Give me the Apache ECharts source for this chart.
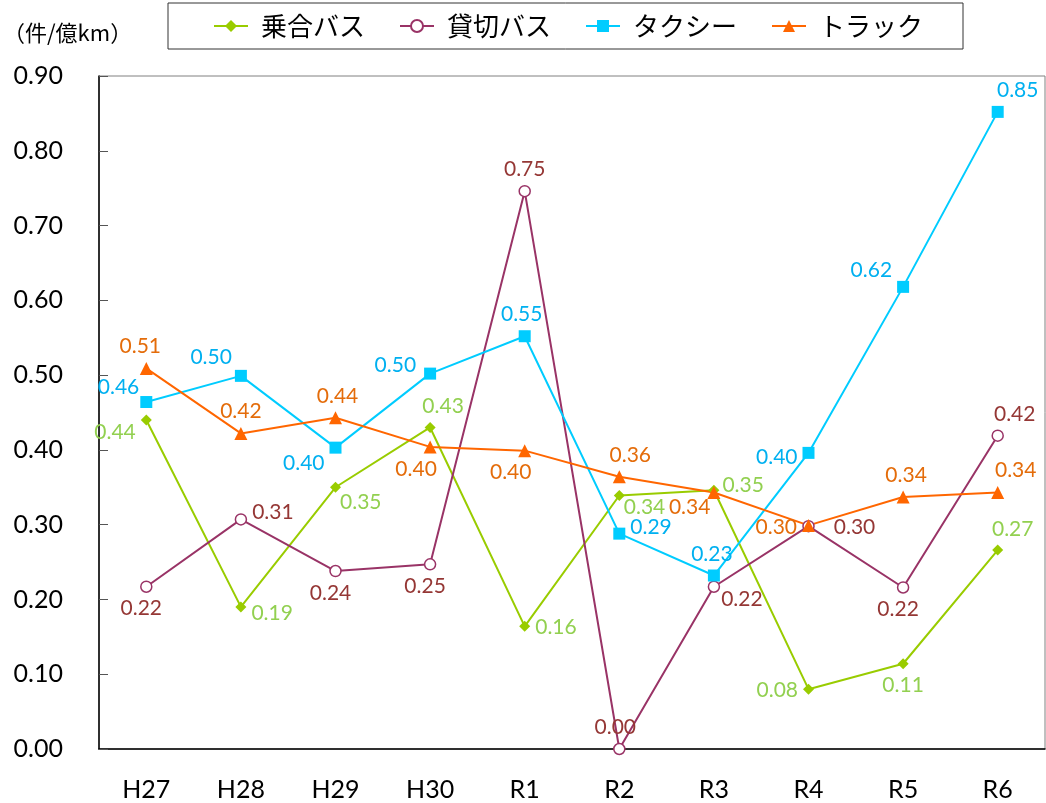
<!DOCTYPE html>
<html>
<head>
<meta charset="utf-8">
<script src="https://cdn.jsdelivr.net/npm/echarts@6/dist/echarts.min.js"></script>
<style>html,body{margin:0;padding:0;background:#fff}#c{width:1046px;height:803px}</style>
</head>
<body>
<div id="c"></div>
<script>
const categories = ['H27','H28','H29','H30','R1','R2','R3','R4','R5','R6'];
const yTicks = [0.0,0.1,0.2,0.3,0.4,0.5,0.6,0.7,0.8,0.9];
const seriesNames = ['乗合バス','貸切バス','タクシー','トラック'];
const noriaiBus = [0.44,0.19,0.35,0.43,0.164,0.339,0.346,0.08,0.114,0.266];
const kashikiriBus = [0.217,0.307,0.238,0.247,0.746,0.0,0.217,0.298,0.216,0.419];
const taxi = [0.464,0.499,0.403,0.502,0.552,0.288,0.232,0.396,0.618,0.852];
const truck = [0.509,0.422,0.443,0.404,0.399,0.364,0.343,0.299,0.337,0.343];

// label placement styling (position, offset) per point
const place = {
  noriai: [['left',[0,12]],['right',[0,6]],['right',[-6,15]],['top',[13,0]],['right',[0,1]],['right',[-6,12]],['right',[-2,-5]],['left',[0,1]],['bottom',[0,0]],['top',[15,0]]],
  kashi: [['bottom',[-5,0]],['right',[0,-7]],['bottom',[-5,0]],['bottom',[-5,0]],['top',[0,0]],['top',[-4,0]],['right',[-4,13]],['right',[14,1]],['bottom',[-5,0]],['top',[17,0]]],
  taxi: [['left',[4,-15]],['left',[2,-19]],['left',[0,16]],['left',[-3,-8]],['top',[-3,0]],['right',[0,-6]],['top',[-2,0]],['left',[0,4]],['left',[0,-17]],['top',[20,0]]],
  truck: [['top',[-6,0]],['top',[0,0]],['top',[2,0]],['bottom',[-14,0]],['bottom',[-14,0]],['top',[11,0]],['left',[8,15]],['left',[0,2]],['top',[3,0]],['top',[18,0]]]
};

const numFont = 'Lato, "Open Sans", sans-serif';
const jpFont = '"Noto Sans CJK JP", sans-serif';

function mk(name, vals, pl, lineColor, labelColor, symbol, size, fill) {
  return {
    name: name, type: 'line', symbol: symbol, symbolSize: size,
    lineStyle: {color: lineColor, width: 2},
    itemStyle: {color: fill || lineColor, borderColor: lineColor, borderWidth: fill ? 1.5 : 0},
    emphasis: {disabled: true},
    data: vals.map((v, i) => ({
      value: v,
      label: {show: true, position: pl[i][0], offset: pl[i][1], distance: 5,
        color: labelColor, fontSize: 21, fontFamily: numFont,
        formatter: p => p.value.toFixed(2)}
    })),
    z: 3
  };
}

const chart = echarts.init(document.getElementById('c'), null, {renderer: 'canvas'});
chart.setOption({
  animation: false,
  backgroundColor: '#fff',
  title: {text: '（件/億km）', left: -2, top: 17,
    textStyle: {fontSize: 22, fontWeight: 'normal', color: '#000', fontFamily: jpFont}},
  legend: {
    data: seriesNames, left: 168, top: 3,
    borderColor: '#333', borderWidth: 1, padding: [10, 40, 10, 45],
    itemWidth: 34, itemHeight: 15, itemGap: 34,
    textStyle: {fontSize: 26, color: '#000', fontFamily: jpFont, padding: [0,0,0,8]}
  },
  grid: {left: 99, right: 1, top: 76, bottom: 54, show: true, borderColor: '#808080', borderWidth: 1},
  xAxis: {
    type: 'category', data: categories, boundaryGap: true,
    axisLine: {lineStyle: {color: '#000', width: 1.5}},
    axisTick: {inside: true, length: 9, lineStyle: {color: '#555'}},
    axisLabel: {fontSize: 25, color: '#000', fontFamily: numFont, margin: 28},
    splitLine: {show: false}
  },
  yAxis: {
    type: 'value', min: 0, max: 0.9, interval: 0.1,
    axisLine: {show: true, lineStyle: {color: '#000', width: 1.5}},
    axisTick: {show: true, inside: true, length: 9, lineStyle: {color: '#555'}},
    axisLabel: {fontSize: 25, color: '#000', fontFamily: numFont, margin: 36,
      formatter: v => v.toFixed(2)},
    splitLine: {show: false}
  },
  series: [
    mk(seriesNames[0], noriaiBus, place.noriai, '#99CC00', '#92D050', 'diamond', 11),
    mk(seriesNames[1], kashikiriBus, place.kashi, '#993366', '#953735', 'circle', 11, '#fff'),
    mk(seriesNames[2], taxi, place.taxi, '#00CCFF', '#00B0F0', 'rect', 12),
    mk(seriesNames[3], truck, place.truck, '#FF6600', '#E46C0A', 'triangle', 13)
  ]
});
</script>
</body>
</html>
